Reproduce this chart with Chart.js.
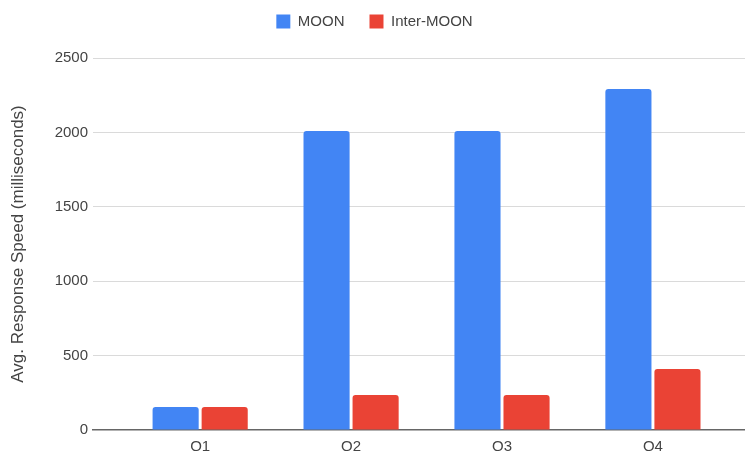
<!DOCTYPE html>
<html>
<head>
<meta charset="utf-8">
<script src="https://cdn.jsdelivr.net/npm/chart.js@4"></script>
<style>
  html, body { margin: 0; padding: 0; background: #fff; }
  #wrap { width: 745px; height: 451px; }
</style>
</head>
<body>
<div id="wrap"><canvas id="myChart"></canvas></div>
<script>
// data
var quarters = ['Q1', 'Q2', 'Q3', 'Q4'];
var moon = [155, 2010, 2010, 2292];
var interMoon = [155, 236, 236, 410];
var yTicks = [0, 500, 1000, 1500, 2000, 2500];

Chart.defaults.font.family = '"Liberation Sans", Arial, sans-serif';
Chart.defaults.color = '#444';

// give the legend some extra room under it
var legendSpace = {
  id: 'legendSpace',
  afterInit: function (chart) {
    var fit = chart.legend.fit;
    chart.legend.fit = function () {
      fit.call(this);
      this.height += 19;
    };
  }
};

function points(values) {
  return values.map(function (v, i) { return { x: i, y: v }; });
}

var ctx = document.getElementById('myChart').getContext('2d');
var chart = new Chart(ctx, {
  type: 'bar',
  plugins: [legendSpace],
  data: {
    datasets: [{
      label: 'MOON',
      backgroundColor: '#4285F4',
      data: points(moon),
      borderRadius: { topLeft: 3, topRight: 3 },
      borderSkipped: 'bottom'
    }, {
      label: 'Inter-MOON',
      backgroundColor: '#EA4335',
      data: points(interMoon),
      borderRadius: { topLeft: 3, topRight: 3 },
      borderSkipped: 'bottom'
    }]
  },
  options: {
    responsive: true,
    maintainAspectRatio: false,
    animation: false,
    categoryPercentage: 0.65,
    barPercentage: 0.94,
    layout: { padding: { left: 4, right: 0, top: -11, bottom: 0 } },
    plugins: {
      legend: {
        position: 'top',
        labels: {
          boxWidth: 14,
          boxHeight: 14,
          padding: 25,
          font: { size: 15 },
          color: '#444'
        }
      },
      tooltip: { enabled: false }
    },
    scales: {
      x: {
        type: 'linear',
        offset: false,
        min: -0.71,
        max: 3.61,
        afterBuildTicks: function (axis) {
          axis.ticks = quarters.map(function (q, i) { return { value: i }; });
        },
        afterFit: function (axis) { axis.height = 21; },
        grid: { display: false, drawTicks: false },
        border: { color: '#666', width: 1.5 },
        ticks: {
          font: { size: 15 },
          color: '#444',
          padding: 8,
          maxRotation: 0,
          callback: function (v) { return quarters[v]; }
        }
      },
      y: {
        min: 0,
        max: 2500,
        afterBuildTicks: function (axis) {
          axis.ticks = yTicks.map(function (v) { return { value: v }; });
        },
        afterFit: function (axis) { axis.width = 89; },
        grid: {
          drawTicks: false,
          color: function (c) { return c.tick.value === 0 ? 'rgba(0,0,0,0)' : '#dadada'; }
        },
        border: { display: false },
        ticks: {
          font: { size: 15 },
          color: '#444',
          padding: 5,
          callback: function (v) { return String(v); }
        },
        title: {
          display: true,
          text: 'Avg. Response Speed (milliseconds)',
          font: { size: 17 },
          color: '#444',
          padding: { top: 4, bottom: 4 }
        }
      }
    }
  }
});
</script>
</body>
</html>
